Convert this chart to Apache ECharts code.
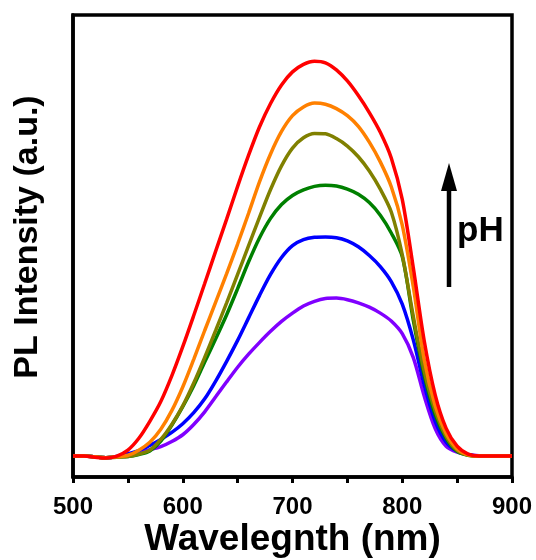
<!DOCTYPE html>
<html>
<head>
<meta charset="utf-8">
<script src="https://cdn.jsdelivr.net/npm/echarts@6/dist/echarts.min.js"></script>
<style>
  html, body { margin: 0; padding: 0; background: #fff; }
  #main { width: 536px; height: 560px; }
</style>
</head>
<body>
<div id="main"></div>
<script>
// PL spectra, every 10 nm from 500 to 900 (intensity a.u. x1000)
var wavelengths = [500,510,520,530,540,550,560,570,580,590,600,610,620,630,640,650,660,670,680,690,700,
                   710,720,730,740,750,760,770,780,790,800,810,820,830,840,850,860,870,880,890,900];

var purpleVals = [0,0,-2,-4,-1,4,9,16,24,37,54,80,112,150,188,225,258,288,316,341,362,
                  380,392,399,400,396,388,377,362,342,310,250,152,70,25,10,4,1,0,0,0];
var blueVals   = [0,0,-2,-4,-1,6,14,27,42,60,82,110,145,190,240,293,350,407,460,503,533,
                  548,554,555,553,545,530,508,480,442,385,295,180,88,35,12,4,0,0,0,0];
var greenVals  = [0,0,-2,-4,-2,-1,4,13,38,78,125,178,238,297,358,424,492,553,602,637,660,
                  674,683,686,684,676,663,642,610,565,505,345,205,105,45,12,2,0,0,0,0];
var oliveVals  = [0,0,-2,-4,-3,-1,5,15,42,80,127,185,250,318,388,460,533,605,675,735,780,
                  806,817,816,804,785,758,722,676,618,510,355,215,115,50,14,2,0,0,0,0];
var orangeVals = [0,0,-2,-4,-2,2,15,35,68,115,175,245,318,390,462,537,615,695,765,822,862,
                  884,894,891,880,862,835,795,745,682,585,430,245,128,57,18,3,0,0,0,0];
var redVals    = [0,0,-3,-5,0,15,45,88,138,203,277,356,437,519,600,683,762,834,893,940,973,
                  992,1000,996,978,950,913,870,820,755,650,478,292,155,70,25,5,0,0,0,0];

var seriesNames = ['pH1', 'pH2', 'pH3', 'pH4', 'pH5', 'pH6'];
var seriesVals = [purpleVals, blueVals, greenVals, oliveVals, orangeVals, redVals];
var seriesColors = ['#8000ff', '#0000ff', '#008000', '#808000', '#ff8000', '#ff0000'];

var xTicks = [500, 900, 100];   // min, max, interval

var font = '"Liberation Sans", Arial, sans-serif';

var series = [];
for (var i = 0; i < seriesVals.length; i++) {
  var pts = [];
  for (var j = 0; j < wavelengths.length; j++) {
    pts.push([wavelengths[j], seriesVals[i][j]]);
  }
  series.push({
    name: seriesNames[i],
    type: 'line',
    data: pts,
    smooth: 0.3,
    symbol: 'none',
    lineStyle: { color: seriesColors[i], width: 3.5 }
  });
}

var option = {
  animation: false,
  grid: {
    left: 73, right: 24, top: 15, bottom: 83,
    outerBoundsMode: 'none',
    containLabel: false,
    show: true, borderColor: '#000', borderWidth: 3.5
  },
  xAxis: {
    type: 'value',
    min: xTicks[0], max: xTicks[1], interval: xTicks[2],
    name: 'Wavelegnth (nm)',
    nameLocation: 'middle',
    nameGap: 44,
    nameMoveOverlap: false,
    nameTextStyle: { fontFamily: font, fontWeight: 'bold', fontSize: 37, color: '#000' },
    axisLine: { show: true, onZero: false, lineStyle: { color: '#000', width: 3.5 } },
    axisTick: { show: true, length: 6, lineStyle: { color: '#000', width: 3 } },
    minorTick: { show: true, splitNumber: 2, length: 6, lineStyle: { color: '#000', width: 3 } },
    axisLabel: { margin: 18, fontFamily: font, fontWeight: 'bold', fontSize: 24, color: '#000' },
    splitLine: { show: false }
  },
  yAxis: {
    type: 'value',
    min: -53, max: 1117,
    name: 'PL Intensity (a.u.)',
    nameLocation: 'middle',
    nameGap: 28,
    nameTextStyle: { fontFamily: font, fontWeight: 'bold', fontSize: 34, color: '#000', padding: [0, 0, 0, 18] },
    axisLine: { show: true, onZero: false, lineStyle: { color: '#000', width: 3.5 } },
    axisTick: { show: false },
    axisLabel: { show: false },
    splitLine: { show: false }
  },
  graphic: [
    { type: 'line', shape: { x1: 449, y1: 287, x2: 449, y2: 186 }, style: { stroke: '#000', lineWidth: 4.5 } },
    { type: 'polygon', shape: { points: [[441, 191], [457, 191], [449, 163]] }, style: { fill: '#000' } },
    { type: 'text', x: 457, y: 231, style: { text: 'pH', font: 'bold 35px ' + font, fill: '#000', verticalAlign: 'middle' } }
  ],
  series: series
};

var chart = echarts.init(document.getElementById('main'));
chart.setOption(option);
</script>
</body>
</html>
